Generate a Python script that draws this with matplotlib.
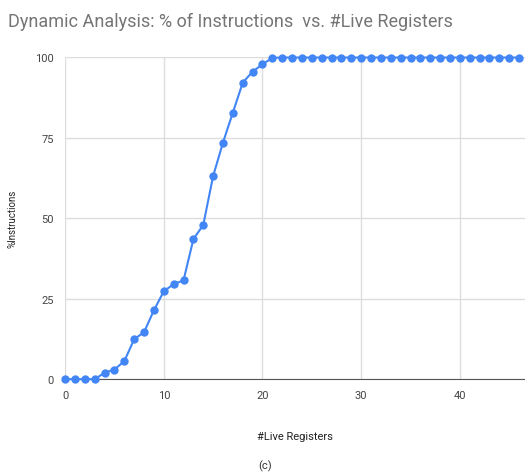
import matplotlib
matplotlib.use('Agg')
import matplotlib.pyplot as plt

plt.rcParams['font.family'] = ['Roboto', 'DejaVu Sans']

live_regs = list(range(0, 47))
pct_instr = [0, 0, 0, 0, 2, 3, 5.6, 12.4, 14.6, 21.4, 27.3, 29.5, 30.7, 43.5, 47.9,
             63.1, 73.5, 82.8, 92.1, 95.5, 97.8, 99.8] + [99.9] * 25
y_ticks = [0, 25, 50, 75, 100]
x_ticks = [0, 10, 20, 30, 40]

fig = plt.figure(figsize=(5.25, 4.77), dpi=100)
ax = fig.add_axes([0.124, 0.203, 0.876, 0.675])

ax.plot(live_regs, pct_instr, color='#4285F4', lw=1.5, marker='o', ms=5,
        clip_on=False, zorder=3)
ax.set_xlim(0, 46.6)
ax.set_ylim(0, 100)
ax.set_xticks(x_ticks)
ax.set_yticks(y_ticks)
ax.grid(True, color='#dddddd', lw=1)
ax.set_axisbelow(True)
for s in ['top', 'right', 'left']:
    ax.spines[s].set_visible(False)
ax.spines['bottom'].set_color('#555555')
ax.tick_params(length=0, labelsize=8, colors='#444444', pad=8)

ax.set_xlabel('#Live Registers', fontsize=8, color='#222222', labelpad=22)
ax.set_ylabel('%Instructions', fontsize=7, color='#222222', labelpad=13)
fig.text(0.015, 0.955, 'Dynamic Analysis: % of Instructions  vs. #Live Registers',
         fontsize=13, color='#757575', va='center')
fig.text(0.505, 0.015, '(c)', fontsize=8, color='#333333', ha='center')

fig.savefig('out.png', dpi=100)
